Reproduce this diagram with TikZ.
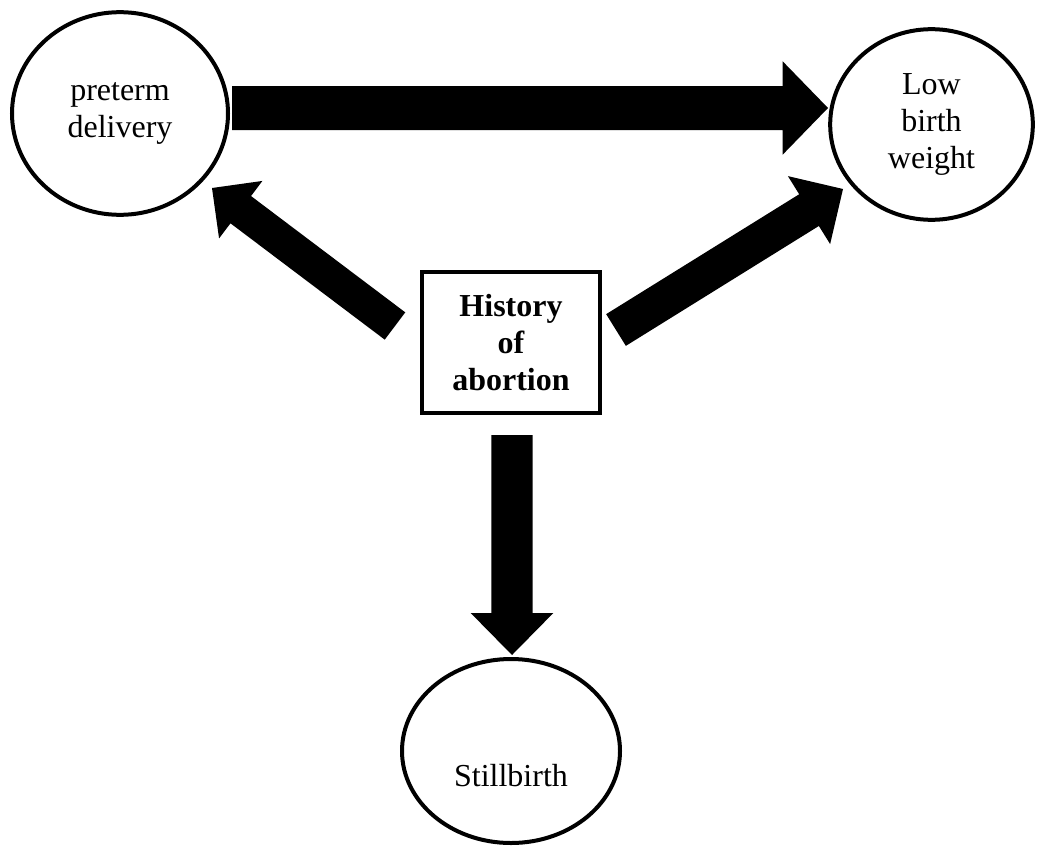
\documentclass[tikz,border=0pt]{standalone}
\usepackage{fontspec}
\setmainfont{Liberation Serif}
\usetikzlibrary{shapes.geometric,calc}
\newcommand\blockarrow[5]{%
  \coordinate (ba-b) at ($(#2)!#5!(#1)$);
  \fill[black]
    ($(#1)!#3!90:(#2)$) -- ($(ba-b)!#3!90:(#2)$) -- ($(ba-b)!#4!90:(#2)$)
    -- (#2)
    -- ($(ba-b)!#4!-90:(#2)$) -- ($(ba-b)!#3!-90:(#2)$) -- ($(#1)!#3!-90:(#2)$) -- cycle;
}
\begin{document}
\begin{tikzpicture}[x=0.75pt,y=-0.75pt,
  every node/.style={font=\fontsize{24}{27.5}\selectfont, align=center},
  circ/.style={ellipse, draw, line width=3pt, inner sep=0pt},
  boxn/.style={rectangle, draw, line width=3pt, inner sep=0pt,
    minimum width=133.5pt, minimum height=105.75pt,
    font=\bfseries\fontsize{24}{28}\selectfont}]
\useasboundingbox (0,0) rectangle (1037,849);

\node[circ, minimum width=162pt, minimum height=152pt] (pd) at (120,113.5) {preterm\\delivery};
\node[circ, minimum width=152pt, minimum height=143pt] (lbw) at (931.5,124.5) {Low\\birth\\weight};
\node[circ, minimum width=163.5pt, minimum height=138pt] (sb) at (511,751) {};
\node (sbl) at (511,776) {Stillbirth};
\node[boxn] (hoa) at (511,342.5) {History\\of\\abortion};

% arrows
\coordinate (a1t) at (232,108);  \coordinate (a1h) at (828,108);
\coordinate (a2t) at (512,435);  \coordinate (a2h) at (512,655);
\coordinate (a3t) at (395,326);  \coordinate (a3h) at (212,188);
\coordinate (a4t) at (616,330);  \coordinate (a4h) at (843,189);

\blockarrow{a1t}{a1h}{16.5pt}{35pt}{34pt}
\blockarrow{a2t}{a2h}{15.4pt}{31pt}{31.5pt}
\blockarrow{a3t}{a3h}{12.8pt}{27pt}{27pt}
\blockarrow{a4t}{a4h}{14pt}{30pt}{30pt}
\end{tikzpicture}
\end{document}
